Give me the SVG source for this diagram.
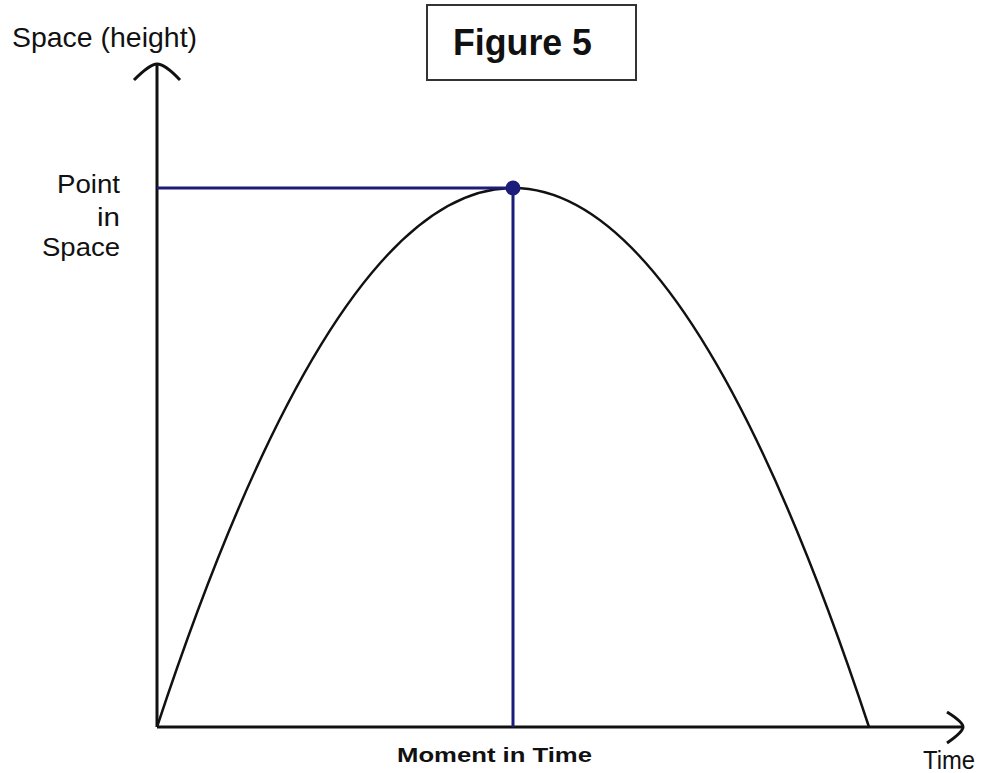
<svg xmlns="http://www.w3.org/2000/svg" width="984" height="773" viewBox="0 0 984 773">
<style>
text{font-family:"Liberation Sans",Arial,sans-serif;fill:#111}
.axis{stroke:#111;stroke-width:3;fill:none}
.blue{stroke:#1c1c7a;stroke-width:3;fill:none}
.curve{stroke:#111;stroke-width:2.5;fill:none}
</style>
<rect width="984" height="773" fill="#fff"/>
<g id="title">
<rect x="427" y="5" width="209" height="75" fill="#fff" stroke="#333" stroke-width="2"/>
<text x="453" y="55" font-size="36" font-weight="bold" textLength="139" lengthAdjust="spacingAndGlyphs">Figure 5</text>
</g>
<g id="axes">
<path class="axis" d="M157,727 V64"/>
<path class="axis" d="M134,80 Q150,64 157,64 Q165,64 180,80"/>
<path class="axis" d="M157,727 H963"/>
<path class="axis" d="M947,712 Q963,722 963,727 Q963,732 947,743"/>
</g>
<g id="curve">
<path class="curve" d="M157,727 Q513,-351 869,727"/>
</g>
<g id="connectors">
<path class="blue" d="M157,188 H513"/>
<path class="blue" d="M513,188 V727"/>
<circle cx="513" cy="188" r="7.5" fill="#1c1c7a"/>
</g>
<g id="labels">
<text x="12" y="47" font-size="28" textLength="185" lengthAdjust="spacingAndGlyphs">Space (height)</text>
<text x="57" y="193" font-size="25" textLength="63" lengthAdjust="spacingAndGlyphs">Point</text>
<text x="97" y="226" font-size="25" textLength="23" lengthAdjust="spacingAndGlyphs">in</text>
<text x="42" y="256" font-size="25" textLength="78" lengthAdjust="spacingAndGlyphs">Space</text>
<text x="397" y="762" font-size="21" font-weight="bold" textLength="195" lengthAdjust="spacingAndGlyphs">Moment in Time</text>
<text x="923" y="769" font-size="25" textLength="52" lengthAdjust="spacingAndGlyphs">Time</text>
</g>
</svg>
